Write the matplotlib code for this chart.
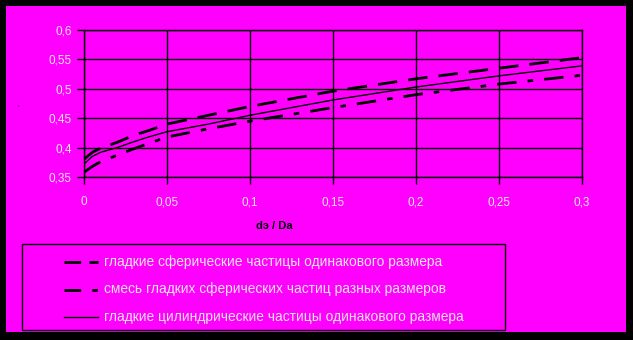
import matplotlib.pyplot as plt
from matplotlib.patches import Rectangle
from matplotlib.lines import Line2D

plt.rcParams['font.family'] = ['Liberation Sans', 'DejaVu Sans']

# данные
x_vals = [0, 0.005, 0.01, 0.02, 0.03, 0.04, 0.05, 0.075, 0.1, 0.15, 0.2, 0.25, 0.3]
sph_same = [0.380, 0.392, 0.399, 0.409, 0.421, 0.430, 0.440, 0.455, 0.470, 0.496, 0.517, 0.535, 0.553]
sph_mix = [0.358, 0.368, 0.376, 0.387, 0.398, 0.408, 0.418, 0.432, 0.445, 0.468, 0.490, 0.508, 0.523]
cyl_same = [0.372, 0.385, 0.392, 0.400, 0.410, 0.419, 0.427, 0.440, 0.455, 0.481, 0.503, 0.522, 0.539]

x_ticks = [0, 0.05, 0.1, 0.15, 0.2, 0.25, 0.3]
x_labels = ['0', '0,05', '0,1', '0,15', '0,2', '0,25', '0,3']
y_ticks = [0.35, 0.4, 0.45, 0.5, 0.55, 0.6]
y_labels = ['0,35', '0,4', '0,45', '0,5', '0,55', '0,6']

legend_names = ['гладкие сферические частицы одинакового размера',
                'смесь гладких сферических частиц разных размеров',
                'гладкие цилиндрические частицы одинакового размера']

W, H = 633, 340
MAG = '#ff00ff'
TXT = '#e8e8e8'

fig = plt.figure(figsize=(W / 100, H / 100), dpi=100)
fig.patch.set_facecolor('black')
fig.patches.append(Rectangle((6 / W, 1 - 332 / H), 620 / W, 326 / H,
                             transform=fig.transFigure, facecolor=MAG, edgecolor='none', zorder=-5))

ax = fig.add_axes([84 / W, 1 - 177 / H, 498 / W, 147 / H])
ax.set_zorder(3)
ax.set_facecolor(MAG)
ax.plot(x_vals, sph_same, color='black', lw=2, dashes=(7, 4))
ax.plot(x_vals, sph_mix, color='black', lw=2, dashes=(7, 4, 2, 4))
ax.plot(x_vals, cyl_same, color='black', lw=1)

ax.set_xlim(0, 0.3)
ax.set_ylim(0.35, 0.6)
ax.set_xticks(x_ticks)
ax.set_xticklabels(x_labels)
ax.set_yticks(y_ticks)
ax.set_yticklabels(y_labels)
ax.grid(True, color='black', lw=1)
ax.tick_params(colors='black', labelcolor=TXT, labelsize=8.5, length=5, width=1)
ax.tick_params(axis='x', pad=9)
ax.tick_params(axis='y', pad=4)
for s in ax.spines.values():
    s.set_color('black')
    s.set_linewidth(1)

fig.text(274 / W, 1 - 226 / H, 'dэ / Da', fontsize=8, fontweight='bold', color='black',
         ha='center', va='center')
fig.text(18 / W, 1 - 111 / H, '`', fontsize=7, color='black', ha='center', va='center')

# легенда
fig.patches.append(Rectangle((22 / W, 1 - 330 / H), 483 / W, 86 / H,
                             transform=fig.transFigure, facecolor='none', edgecolor='black', lw=1, zorder=1))
styles = [dict(lw=2, dashes=(6, 3)), dict(lw=2, dashes=(6, 4, 2, 4)), dict(lw=1)]
for i, (name, st) in enumerate(zip(legend_names, styles)):
    yy = 1 - (262 + 27.5 * i) / H
    fig.lines.append(Line2D([64 / W, 98 / W], [yy, yy], transform=fig.transFigure, color='black', **st))
    fig.text(104 / W, yy, name, fontsize=9.9, color=TXT, va='center', ha='left')

fig.savefig('out.png', dpi=100, facecolor=fig.get_facecolor())
